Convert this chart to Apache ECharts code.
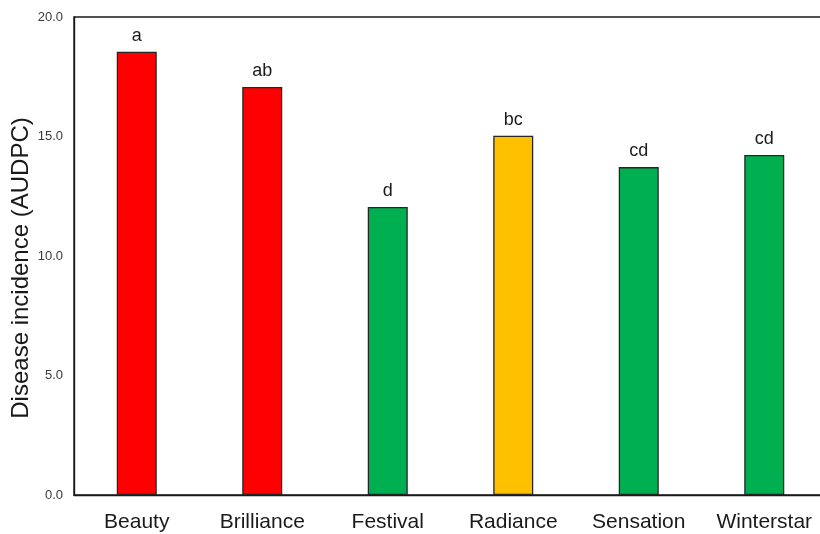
<!DOCTYPE html>
<html>
<head>
<meta charset="utf-8">
<script src="https://cdn.jsdelivr.net/npm/echarts@6/dist/echarts.min.js"></script>
<style>
  html, body { margin: 0; padding: 0; background: #fff; }
  #chart { width: 820px; height: 534px; }
</style>
</head>
<body>
<div id="chart"></div>
<script>
// Cultivars and their disease incidence (AUDPC)
const cultivars = ['Beauty', 'Brilliance', 'Festival', 'Radiance', 'Sensation', 'Winterstar'];
const audpc = [18.55, 17.07, 12.05, 15.03, 13.72, 14.23];
// Mean separation letters shown above each bar
const groups = ['a', 'ab', 'd', 'bc', 'cd', 'cd'];
// Fill colour for each bar
const barColors = ['#FF0000', '#FF0000', '#00B050', '#FFC000', '#00B050', '#00B050'];
const yTicks = [0, 5, 10, 15, 20];
const yTitle = 'Disease incidence (AUDPC)';

const FONT = 'Liberation Sans, Arial, sans-serif';
const chart = echarts.init(document.getElementById('chart'), null, { renderer: 'canvas' });

chart.setOption({
  animation: false,
  backgroundColor: '#ffffff',
  grid: {
    left: 74,
    top: 17,
    width: 753,
    height: 478,
    containLabel: false,
    outerBoundsMode: 'none',
    show: true,
    borderColor: '#1a1a1a',
    borderWidth: 1.4,
    backgroundColor: 'transparent'
  },
  xAxis: {
    type: 'category',
    data: cultivars,
    boundaryGap: true,
    axisLine: { show: true, lineStyle: { color: '#1a1a1a', width: 1.4 } },
    axisTick: { show: false },
    axisLabel: {
      color: '#1a1a1a',
      fontSize: 21,
      fontFamily: FONT,
      margin: 17
    },
    splitLine: { show: false }
  },
  yAxis: {
    type: 'value',
    min: yTicks[0],
    max: yTicks[yTicks.length - 1],
    interval: 5,
    axisLine: { show: true, lineStyle: { color: '#1a1a1a', width: 1.4 } },
    axisTick: { show: false },
    axisLabel: {
      color: '#3a3a3a',
      fontSize: 13,
      fontFamily: FONT,
      margin: 11,
      formatter: v => v.toFixed(1)
    },
    splitLine: { show: false }
  },
  graphic: [{
    type: 'text',
    x: 21,
    y: 268,
    rotation: Math.PI / 2,
    style: {
      text: yTitle,
      fill: '#1a1a1a',
      fontSize: 24,
      fontFamily: FONT,
      align: 'center',
      verticalAlign: 'middle'
    }
  }],
  series: [{
    type: 'bar',
    barWidth: 40,
    data: audpc.map((v, i) => ({
      value: v,
      itemStyle: { color: barColors[i], borderColor: '#262626', borderWidth: 1.3 }
    })),
    label: {
      show: true,
      position: 'top',
      distance: 7,
      color: '#1a1a1a',
      fontSize: 18,
      fontFamily: FONT,
      formatter: p => groups[p.dataIndex]
    }
  }]
});
</script>
</body>
</html>
